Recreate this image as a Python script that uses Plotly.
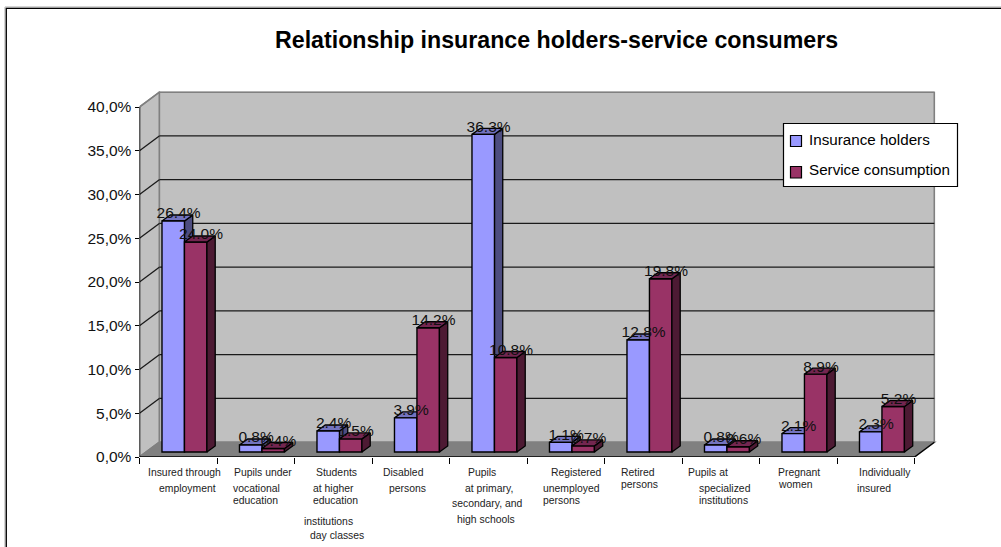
import plotly.graph_objects as go

# Chart data
series_names = ["Insurance holders", "Service consumption"]
insurance_holders = [26.4, 0.8, 2.4, 3.9, 36.3, 1.1, 12.8, 0.8, 2.1, 2.3]
service_consumption = [24.0, 0.4, 1.5, 14.2, 10.8, 0.7, 19.8, 0.6, 8.9, 5.2]
tick_values = [0, 5, 10, 15, 20, 25, 30, 35, 40]
tick_labels = ["0,0%", "5,0%", "10,0%", "15,0%", "20,0%", "25,0%", "30,0%", "35,0%", "40,0%"]
title_text = "Relationship insurance holders-service consumers"

# Wrapped category labels, one inner list per category
category_lines = [
    ["Insured through", "employment"],
    ["Pupils under", "vocational", "education"],
    ["Students", "at higher", "education", "institutions", "day classes"],
    ["Disabled", "persons"],
    ["Pupils", "at primary,", "secondary, and", "high schools"],
    ["Registered", "unemployed", "persons"],
    ["Retired", "persons"],
    ["Pupils at", "specialized", "institutions"],
    ["Pregnant", "women"],
    ["Individually", "insured"],
]

# Pixel placement (left edge, vertical centre) of each wrapped label line
label_positions = [
    [(147, 472), (158, 488)],
    [(233.3, 472), (231.7, 488), (231.7, 500)],
    [(315.3, 472), (312.3, 488), (312.3, 500), (303, 521.7), (308.7, 535.3)],
    [(382.3, 472), (387.7, 488)],
    [(466.7, 472), (464, 488), (450.7, 503.7), (455.7, 519.3)],
    [(550.3, 472), (542, 488), (542, 500)],
    [(620, 472), (620, 484.3)],
    [(687, 472), (697.7, 488), (697.7, 500)],
    [(777.3, 472), (777.3, 484.3)],
    [(857.7, 472), (856, 488)],
]

# Canvas and plot scale
W, H = 1001, 547
X0_PX, Y0_PX = 139.5, 457.0
PX_PER_CAT, PX_PER_PCT = 77.5, 8.75
X_MAX, Y_MAX = 10.3, 41.8

# Oblique projection offsets, in axis units
WALL_DX, WALL_DY = 19.8 / PX_PER_CAT, 14.8 / PX_PER_PCT
BAR_DX, BAR_DY = 8.3 / PX_PER_CAT, 6.0 / PX_PER_PCT
LIFT = 5.0 / PX_PER_PCT
BAR_W = 0.29
BLUE_X = [i + 0.435 for i in range(10)]
RED_X = [i + 0.725 for i in range(10)]

BLUE, BLUE_TOP, BLUE_SIDE = "#9999FF", "#7373BF", "#4D4D80"
RED, RED_TOP, RED_SIDE = "#993366", "#732650", "#4D1A33"
FONT = "Liberation Sans, Arial, sans-serif"


def paper(px, py):
    return px / W, 1 - py / H


def polygons(xs, vals, kind):
    """Outline the side or top face of each bar in axis units."""
    px, py = [], []
    for x, v in zip(xs, vals):
        right, left = x + BAR_W / 2, x - BAR_W / 2
        top = v + LIFT
        if kind == "side":
            corners = [(right, LIFT), (right, top), (right + BAR_DX, top + BAR_DY),
                       (right + BAR_DX, LIFT + BAR_DY), (right, LIFT)]
        else:
            corners = [(left, top), (right, top), (right + BAR_DX, top + BAR_DY),
                       (left + BAR_DX, top + BAR_DY), (left, top)]
        px += [c[0] for c in corners] + [None]
        py += [c[1] for c in corners] + [None]
    return px, py


def face(xs, vals, kind, color, xaxis, yaxis):
    px, py = polygons(xs, vals, kind)
    return go.Scatter(x=px, y=py, mode="lines", fill="toself", fillcolor=color,
                      line=dict(color="black", width=1.3), xaxis=xaxis, yaxis=yaxis,
                      hoverinfo="skip", showlegend=False)


fig = go.Figure()

# The blue faces sit on the lower subplot so red fronts can cover them
fig.add_trace(face(BLUE_X, insurance_holders, "side", BLUE_SIDE, "x", "y"))
fig.add_trace(face(BLUE_X, insurance_holders, "top", BLUE_TOP, "x", "y"))

for xs, vals, name, color in [(BLUE_X, insurance_holders, series_names[0], BLUE),
                              (RED_X, service_consumption, series_names[1], RED)]:
    fig.add_trace(go.Bar(x=xs, y=vals, base=LIFT, width=BAR_W, name=name,
                         marker=dict(color=color, line=dict(color="black", width=1.4)),
                         xaxis="x2", yaxis="y2", showlegend=False))

fig.add_trace(face(RED_X, service_consumption, "side", RED_SIDE, "x2", "y2"))
fig.add_trace(face(RED_X, service_consumption, "top", RED_TOP, "x2", "y2"))

# Value labels float just above each bar
for xs, vals in [(BLUE_X, insurance_holders), (RED_X, service_consumption)]:
    fig.add_trace(go.Scatter(
        x=[x + BAR_DX / 2 + 1.2 / PX_PER_CAT for x in xs],
        y=[v + LIFT + BAR_DY + 0.05 for v in vals],
        text=[f"{v:.1f}%" for v in vals], mode="text", textposition="middle center",
        textfont=dict(family=FONT, size=15.5, color="#111111"),
        xaxis="x2", yaxis="y2", hoverinfo="skip", showlegend=False, cliponaxis=False))

# Walls, floor and gridlines of the 3D box
shapes = []
line_edge = dict(color="#808080", width=1.6)


def add_poly(pts, fill, line):
    path = "M" + "L".join(f"{x},{y}" for x, y in pts) + "Z"
    shapes.append(dict(type="path", path=path, xref="x", yref="y", fillcolor=fill,
                       line=line, layer="below"))


add_poly([(WALL_DX, WALL_DY), (10 + WALL_DX, WALL_DY), (10 + WALL_DX, 40 + WALL_DY),
          (WALL_DX, 40 + WALL_DY)], "#C0C0C0", line_edge)
add_poly([(0, 0), (WALL_DX, WALL_DY), (WALL_DX, 40 + WALL_DY), (0, 40)], "#C0C0C0", line_edge)
add_poly([(0, 0), (10, 0), (10 + WALL_DX, WALL_DY), (WALL_DX, WALL_DY)], "#808080", line_edge)

for t in tick_values[1:]:
    color = "#808080" if t == 40 else "#1a1a1a"
    shapes.append(dict(type="line", xref="x", yref="y", x0=WALL_DX, x1=10 + WALL_DX,
                       y0=t + WALL_DY, y1=t + WALL_DY, layer="below",
                       line=dict(color=color, width=1.3)))
    shapes.append(dict(type="line", xref="x", yref="y", x0=0, x1=WALL_DX, y0=t,
                       y1=t + WALL_DY, layer="below", line=dict(color=color, width=1.3)))

# Axis lines stop at the ends of the value and category ranges
shapes.append(dict(type="line", xref="x", yref="y", x0=0, x1=0, y0=0, y1=40, layer="below",
                   line=dict(color="black", width=1.4)))
shapes.append(dict(type="line", xref="x", yref="y", x0=0, x1=10, y0=0, y1=0, layer="below",
                   line=dict(color="black", width=1.4)))
shapes.append(dict(type="line", xref="x", yref="y", x0=10, x1=10 + WALL_DX, y0=0, y1=WALL_DY,
                   layer="below", line=dict(color="black", width=1.3)))


def paper_shape(kind, x0, y0, x1, y1, **kw):
    (ax, ay), (bx, by) = paper(x0, y0), paper(x1, y1)
    shapes.append(dict(type=kind, xref="paper", yref="paper", x0=ax, y0=ay, x1=bx, y1=by, **kw))


# Chart frame: a grey edge behind the black line
paper_shape("line", 5, 7, W, 7, line=dict(color="#A8A8A8", width=1))
paper_shape("line", 5, 7, 5, H, line=dict(color="#A8A8A8", width=1))
paper_shape("line", 6, 8.3, W, 8.3, line=dict(color="black", width=1.3))
paper_shape("line", 6.3, 8, 6.3, H, line=dict(color="black", width=1.3))

# Legend box and swatches
paper_shape("rect", 783.5, 123.5, 957.5, 186.5, fillcolor="white", line=dict(color="black", width=1.2))
paper_shape("rect", 790.5, 135.5, 801.5, 146.5, fillcolor=BLUE, line=dict(color="black", width=1.2))
paper_shape("rect", 790.5, 166.5, 801.5, 178, fillcolor=RED, line=dict(color="black", width=1.2))

annotations = []


def add_text(px, py, text, size, anchor="left", bold=False, color="black"):
    ax, ay = paper(px, py)
    annotations.append(dict(xref="paper", yref="paper", x=ax, y=ay, text=f"<b>{text}</b>" if bold else text,
                            xanchor=anchor, yanchor="middle", showarrow=False, borderpad=0,
                            font=dict(family=FONT, size=size, color=color)))


add_text(556, 40, title_text, 23.2, anchor="center", bold=True)
add_text(808.3, 139.3, series_names[0], 15.2)
add_text(808.3, 170, series_names[1], 15.2)
for lines, spots in zip(category_lines, label_positions):
    for line, (px, py) in zip(lines, spots):
        add_text(px, py, line, 10.4, color="#222222")

x_dom = [X0_PX / W, (X0_PX + X_MAX * PX_PER_CAT) / W]
y_dom = [1 - Y0_PX / H, 1 - (Y0_PX - Y_MAX * PX_PER_PCT) / H]

fig.update_layout(
    width=W, height=H, margin=dict(l=0, r=0, t=0, b=0, autoexpand=False), autosize=False,
    paper_bgcolor="white", plot_bgcolor="rgba(0,0,0,0)", barmode="overlay",
    showlegend=False, shapes=shapes, annotations=annotations,
    xaxis=dict(domain=x_dom, range=[0, X_MAX], tickvals=list(range(11)), showticklabels=False,
               ticks="outside", ticklen=6, tickwidth=1.3, tickcolor="black", showgrid=False,
               zeroline=False, showline=False),
    yaxis=dict(domain=y_dom, range=[0, Y_MAX], tickvals=tick_values, ticktext=tick_labels,
               ticks="outside", ticklen=4, tickwidth=1.3, tickcolor="black", showgrid=False,
               zeroline=False, showline=False, tickfont=dict(family=FONT, size=15.5, color="#111111")),
    xaxis2=dict(domain=x_dom, range=[0, X_MAX], overlaying="x", visible=False),
    yaxis2=dict(domain=y_dom, range=[0, Y_MAX], overlaying="y", visible=False),
)

fig.write_html("out.html", config=dict(displayModeBar=False))
